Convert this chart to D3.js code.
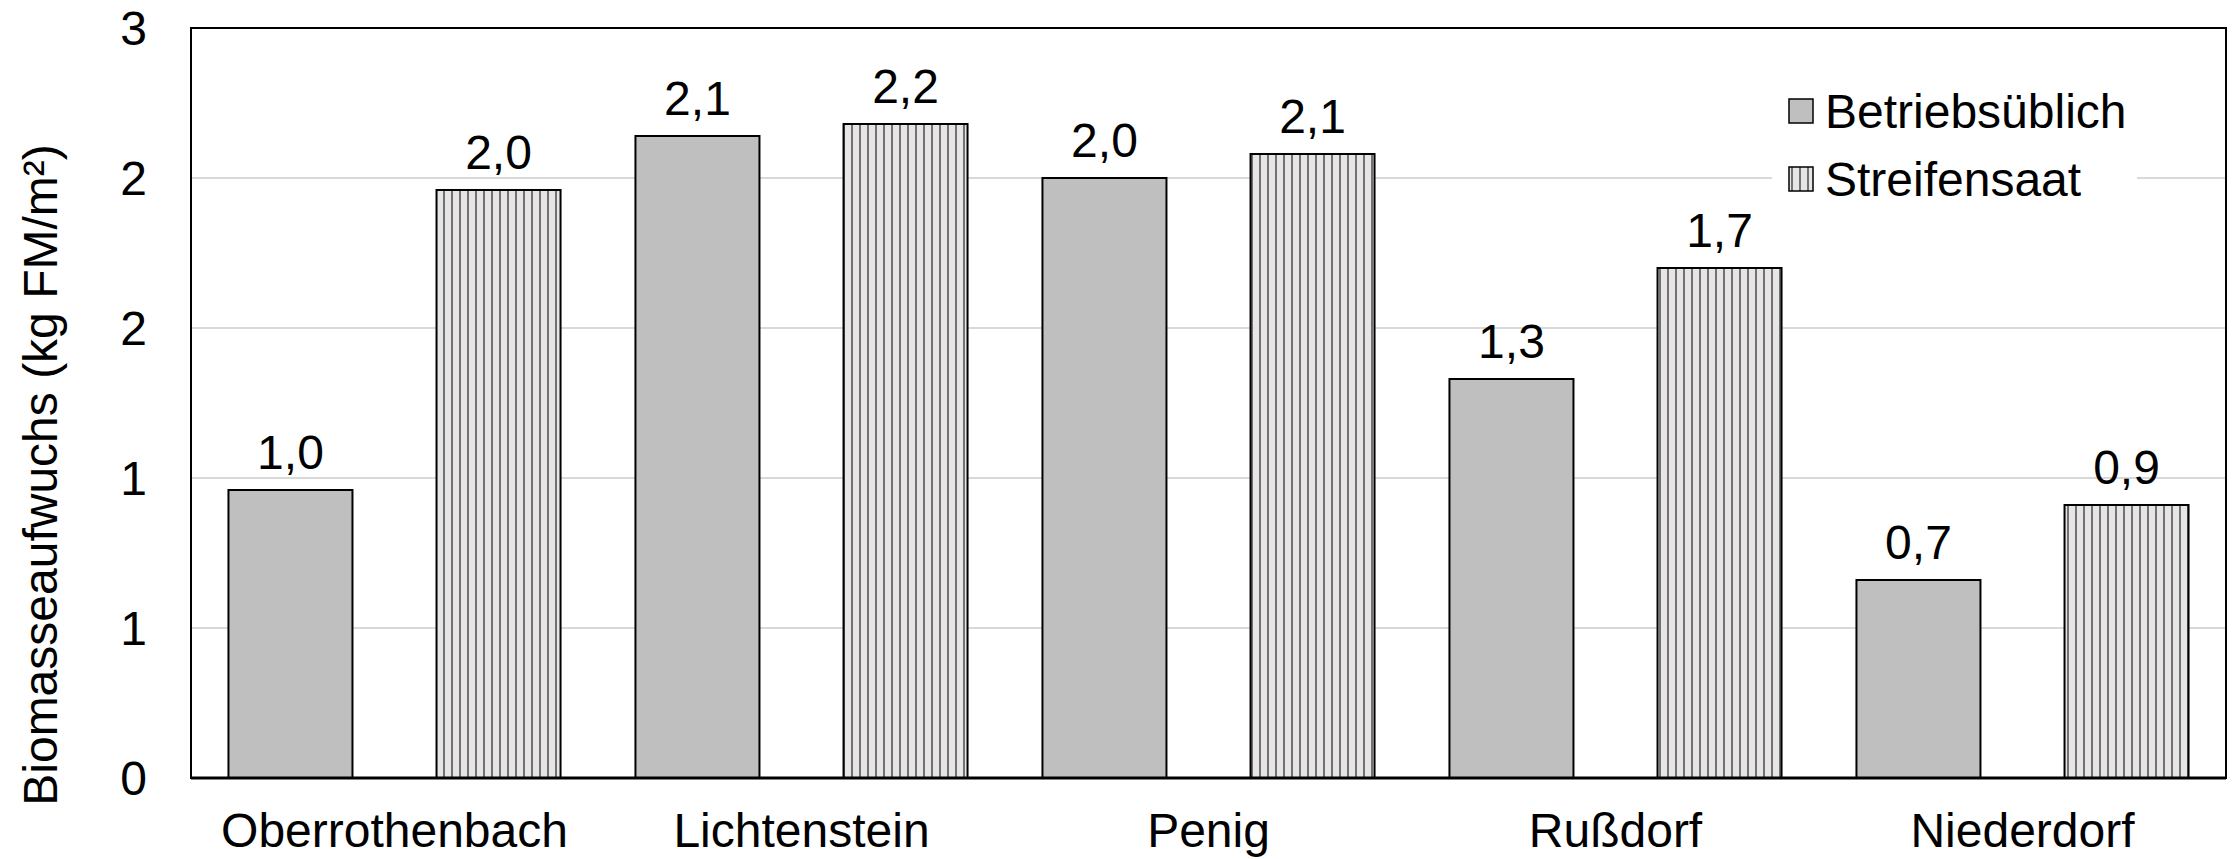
<!DOCTYPE html>
<html><head><meta charset="utf-8">
<script src="https://cdn.jsdelivr.net/npm/d3@7/dist/d3.min.js"></script>
<style>body{margin:0;background:#fff}svg text{font-family:"Liberation Sans",Arial,sans-serif}</style>
</head><body><svg id="c" width="2233" height="859"></svg>
<script>
const categories = ["Oberrothenbach","Lichtenstein","Penig","Rußdorf","Niederdorf"];
const seriesNames = ["Betriebsüblich","Streifensaat"];
const betriebsueblich = [0.96, 2.14, 2.00, 1.33, 0.66];
const streifensaat = [1.96, 2.18, 2.08, 1.70, 0.91];
const yTickValues = [0, 0.5, 1, 1.5, 2, 2.5];
const yTickLabels = ["0","1","1","2","2","3"];
const yTitle = "Biomasseaufwuchs (kg FM/m²)";

const svg = d3.select("#c");
const m = {l:191, r:2226, t:28, b:778};
const FS = 48;

const defs = svg.append("defs");
const pat = defs.append("pattern").attr("id","hatch").attr("patternUnits","userSpaceOnUse")
  .attr("width",8).attr("height",8);
pat.append("rect").attr("width",8).attr("height",8).attr("fill","#e7e6e6");
pat.append("rect").attr("x",3).attr("width",2).attr("height",8).attr("fill","#767171");

const x0 = d3.scaleBand().domain(categories).range([m.l, m.r]).paddingInner(0).paddingOuter(0);
const x1 = d3.scaleBand().domain(seriesNames).range([0, x0.bandwidth()]).paddingInner(0.404).paddingOuter(0.18);
const y = d3.scaleLinear().domain([0, 2.5]).range([m.b, m.t]);

// gridlines
svg.append("g").selectAll("line").data(yTickValues.filter(v=>v>0)).join("line")
  .attr("x1",m.l).attr("x2",m.r).attr("y1",d=>y(d)).attr("y2",d=>y(d))
  .attr("stroke","#d9d9d9").attr("stroke-width",2);

// y axis labels
const yAxis = d3.axisLeft(y).tickValues(yTickValues).tickFormat((d,i)=>yTickLabels[i]).tickSize(0).tickPadding(44);
const ya = svg.append("g").attr("transform",`translate(${m.l},0)`).call(yAxis);
ya.select(".domain").remove();
ya.selectAll("text").attr("font-size",FS).attr("fill","#000").attr("dy","0.35em");

// bars
const series = [betriebsueblich, streifensaat];
const fills = ["#bfbfbf","url(#hatch)"];
const fmt = v => v.toFixed(1).replace(".",",");
series.forEach((vals, si) => {
  const g = svg.append("g");
  g.selectAll("rect").data(vals).join("rect")
    .attr("x",(d,i)=>x0(categories[i]) + x1(seriesNames[si]))
    .attr("width",x1.bandwidth())
    .attr("y",d=>y(d)).attr("height",d=>y(0)-y(d))
    .attr("fill",fills[si]).attr("stroke","#000").attr("stroke-width",2);
  g.selectAll("text").data(vals).join("text")
    .attr("x",(d,i)=>x0(categories[i]) + x1(seriesNames[si]) + x1.bandwidth()/2)
    .attr("y",d=>y(d)-21).attr("text-anchor","middle").attr("font-size",FS).attr("fill","#000")
    .text(d=>fmt(d));
});

// frame
svg.append("rect").attr("x",m.l).attr("y",m.t).attr("width",m.r-m.l).attr("height",m.b-m.t)
  .attr("fill","none").attr("stroke","#000").attr("stroke-width",2);
svg.append("line").attr("x1",m.l).attr("x2",m.r).attr("y1",y(0)).attr("y2",y(0)).attr("stroke","#000").attr("stroke-width",3);

// x axis labels
const xAxis = d3.axisBottom(x0).tickSize(0).tickPadding(0);
const xa = svg.append("g").attr("transform",`translate(0,${m.b})`).call(xAxis);
xa.select(".domain").remove();
xa.selectAll("text").attr("font-size",FS).attr("fill","#000").attr("dy",null).attr("y",69);

// y title
svg.append("text").attr("transform",`translate(57,475) rotate(-90)`)
  .attr("text-anchor","middle").attr("font-size",FS).attr("fill","#000").text(yTitle);

// legend
const lg = svg.append("g").attr("transform","translate(1772,78)");
lg.append("rect").attr("x",0).attr("y",0).attr("width",365).attr("height",135).attr("fill","#fff");
const legFills = ["#bfbfbf","url(#hatch)"];
seriesNames.forEach((n,i)=>{
  const cy = 33 + i*68;
  lg.append("rect").attr("x",17).attr("y",cy-12).attr("width",24).attr("height",24)
    .attr("fill",legFills[i]).attr("stroke","#000").attr("stroke-width",1.5);
  lg.append("text").attr("x",53).attr("y",cy).attr("dy","0.35em").attr("font-size",FS).attr("fill","#000").text(n);
});
</script></body></html>
